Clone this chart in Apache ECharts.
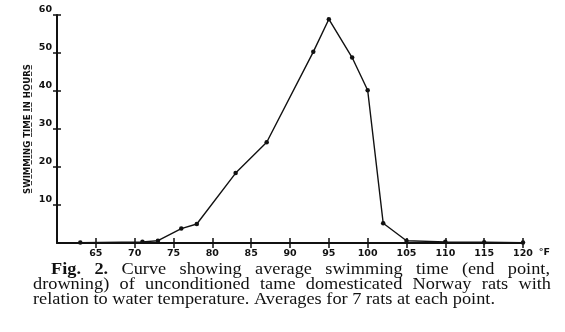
<!DOCTYPE html>
<html>
<head>
<meta charset="utf-8">
<script src="https://cdn.jsdelivr.net/npm/echarts@6/dist/echarts.min.js"></script>
<style>
  html, body { margin: 0; padding: 0; background: #fff; }
  #chart { width: 565px; height: 332px; }
</style>
</head>
<body>
<div id="chart"></div>
<script>
// Water temperature (°F) and average swimming time (hours)
const temps = [63, 71, 73, 76, 78, 83, 87, 93, 95, 98, 100, 102, 105, 110, 115, 120];
const hours = [0.1, 0.3, 0.6, 3.8, 5.0, 18.4, 26.5, 50.3, 58.9, 48.8, 40.2, 5.2, 0.6, 0.3, 0.2, 0.1];

const yTitleWords = ['SWIMMING', 'TIME', 'IN', 'HOURS'];
const captionLines = [
  { bold: ['Fig.', '2.'], words: ['Curve', 'showing', 'average', 'swimming', 'time', '(end', 'point,'] },
  { bold: [], words: ['drowning)', 'of', 'unconditioned', 'tame', 'domesticated', 'Norway', 'rats', 'with'] },
  { bold: [], words: ['relation', 'to', 'water', 'temperature.', 'Averages', 'for', '7', 'rats', 'at', 'each', 'point.'] }
];

const ink = '#111';
const underline = w => w.split('').map(c => c + '\u0332').join('');

// Caption typeset word by word, justified like a printed figure legend
const capFont = '16px "Liberation Serif", serif';
const capBold = 'bold 16px "Liberation Serif", serif';
const measureCtx = document.createElement('canvas').getContext('2d');
function width(text, font) { measureCtx.font = font; return measureCtx.measureText(text).width; }

function tokens(line) {
  return line.bold.map(t => ({ t, f: capBold })).concat(line.words.map(t => ({ t, f: capFont })));
}
// the last (ragged) line sets the horizontal stretch of the face
const lastToks = tokens(captionLines[2]);
const lastNatural = lastToks.reduce((s, k) => s + width(k.t, k.f), 0) + width(' ', capFont) * (lastToks.length - 1);
const stretch = 462 / lastNatural;

function layoutLine(line, x0, x1, y, justify) {
  const toks = tokens(line);
  const ws = toks.map(k => width(k.t, k.f) * stretch);
  const total = ws.reduce((a, b) => a + b, 0);
  const gap = justify ? (x1 - x0 - total) / (toks.length - 1) : width(' ', capFont) * stretch;
  let x = x0;
  return toks.map((k, i) => {
    const el = {
      type: 'text', x: x, y: y, scaleX: stretch,
      style: { text: k.t, font: k.f, fill: ink, textVerticalAlign: 'middle', textAlign: 'left' }
    };
    x += ws[i] + gap;
    return el;
  });
}

const caption = [].concat(
  layoutLine(captionLines[0], 51, 550, 270, true),
  layoutLine(captionLines[1], 33, 551, 285, true),
  layoutLine(captionLines[2], 33, 551, 300, false)
);

const axisFont = { fontFamily: 'DejaVu Sans', fontWeight: 'bold', fontSize: 9.5, color: ink };

const chart = echarts.init(document.getElementById('chart'), null, { renderer: 'canvas' });
chart.setOption({
  animation: false,
  backgroundColor: '#fff',
  grid: { left: 57, right: 42, top: 15, bottom: 89, containLabel: false },
  xAxis: [
    {
      type: 'value', min: 60, max: 120, interval: 5,
      axisLine: { show: true, lineStyle: { color: ink, width: 2 } },
      axisTick: { show: true, length: 5, lineStyle: { color: ink, width: 1.5 } },
      axisLabel: Object.assign({ margin: 6, showMinLabel: false, letterSpacing: 1 }, axisFont),
      splitLine: { show: false },
      name: '°F', nameLocation: 'end', nameGap: 12,
      nameTextStyle: Object.assign({ verticalAlign: 'top', padding: [5, 0, 0, 0] }, axisFont)
    },
    {
      type: 'value', min: 60, max: 120, interval: 5, position: 'bottom',
      axisLine: { show: false },
      axisTick: { show: true, inside: true, length: 5, lineStyle: { color: ink, width: 1.5 } },
      axisLabel: { show: false }, splitLine: { show: false }
    }
  ],
  yAxis: [
    {
      type: 'value', min: 0, max: 60, interval: 10,
      axisLine: { show: true, lineStyle: { color: ink, width: 2 } },
      axisTick: { show: true, length: 4, lineStyle: { color: ink, width: 1.5 } },
      axisLabel: Object.assign({ margin: 5, showMinLabel: false, verticalAlign: 'bottom' }, axisFont),
      splitLine: { show: false },
      name: yTitleWords.map(underline).join(' '),
      nameLocation: 'middle', nameGap: 24, nameRotate: 90, nameMoveOverlap: false,
      nameTextStyle: { fontFamily: 'DejaVu Sans Condensed', fontWeight: 'bold', fontSize: 9.5, color: ink }
    },
    {
      type: 'value', min: 0, max: 60, interval: 10, position: 'left',
      axisLine: { show: false },
      axisTick: { show: true, inside: true, length: 4, lineStyle: { color: ink, width: 1.5 } },
      axisLabel: { show: false }, splitLine: { show: false }
    }
  ],
  series: [{
    type: 'line',
    data: temps.map((t, i) => [t, hours[i]]),
    symbol: 'circle', symbolSize: 4.5,
    lineStyle: { color: ink, width: 1.4 },
    itemStyle: { color: ink },
    clip: false
  }],
  graphic: caption
});
</script>
</body>
</html>
